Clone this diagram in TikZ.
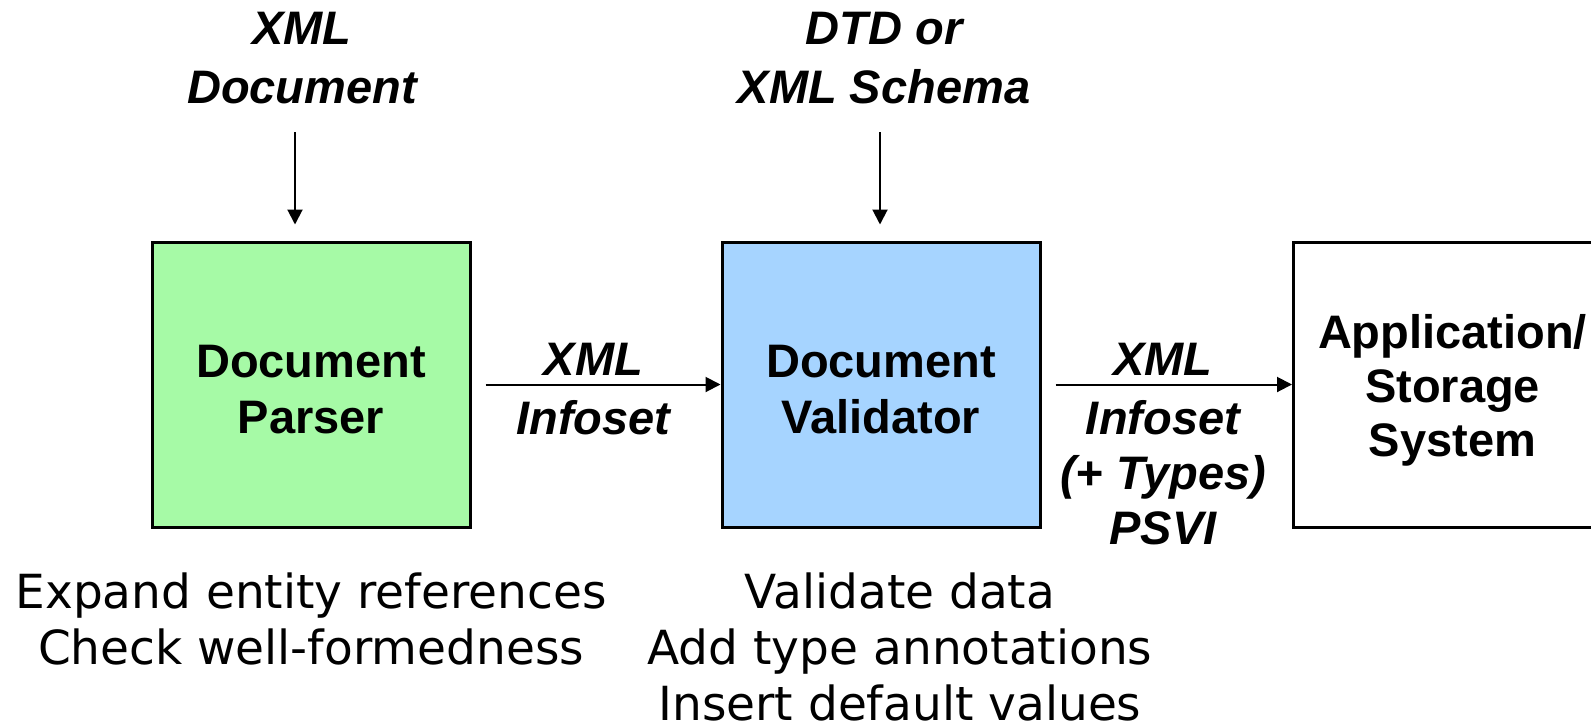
\documentclass[tikz,border=0pt]{standalone}
\usepackage{fontspec}
\setmainfont{Liberation Sans}
\newfontfamily\verdanafont{DejaVu Sans}
\usetikzlibrary{arrows.meta,positioning}
\definecolor{parsergreen}{HTML}{A6FAA6}
\definecolor{validblue}{HTML}{A6D4FF}

\begin{document}
\begin{tikzpicture}[x=0.5pt,y=-0.5pt,
  stage/.style={draw,line width=1.5pt,minimum width=159pt,minimum height=142.5pt},
  stagetext/.style={align=center,inner sep=0pt,font=\fontsize{23.5}{28}\selectfont\bfseries},
  input/.style={align=center,inner sep=0pt,font=\fontsize{23.5}{29.5}\selectfont\bfseries\itshape},
  flowlabel/.style={align=center,font=\fontsize{23.5}{27.5}\selectfont\bfseries\itshape},
  task/.style={align=center,inner sep=0pt,font=\fontsize{23.5}{28}\selectfont\verdanafont},
  flow/.style={line width=1pt,-{Triangle[length=7.5pt,width=7.5pt]}}]
  \useasboundingbox (0,0) rectangle (1591,724);
  \clip (0,0) rectangle (1591,724);

  \node[stage,fill=parsergreen] (parser) at (311,384.5) {};
  \node[stage,fill=validblue] (validator) at (881,384.5) {};
  \node[stage,anchor=west] (storage) at (1292,384.5) {};
  \node[stagetext,yshift=-2.5pt] (parsername) at (parser) {Document\\Parser};
  \node[stagetext,yshift=-2.5pt] (validatorname) at (validator) {Document\\Validator};
  \node[stagetext,yshift=-3pt,font=\fontsize{23.5}{27}\selectfont\bfseries] (storagename) at (storage) {Application/\\Storage\\System};

  \node[input,anchor=north] (xmldoc) at (302,12) {XML\\Document};
  \node[input,anchor=north] (schema) at (884,12) {DTD or\\XML Schema};
  \coordinate (docin) at (295,132);
  \coordinate (schemain) at (880,132);
  \draw[flow,shorten >=8pt] (docin) -- (docin |- parser.north);
  \draw[flow,shorten >=8pt] (schemain) -- (schemain |- validator.north);

  \draw[flow,shorten <=7pt] (parser.east) -- (validator.west)
    node[flowlabel,pos=0.49,above,inner sep=4pt] (infoset) {XML}
    node[flowlabel,pos=0.49,below,inner sep=7.5pt] {Infoset};
  \draw[flow,shorten <=7pt] (validator.east) -- (storage.west)
    node[flowlabel,pos=0.485,above,inner sep=4pt] (psvi) {XML}
    node[flowlabel,pos=0.485,below,inner sep=7.5pt] {Infoset\\(+ Types)\\PSVI};

  \node[task,below=22pt of parser] (parsetasks) {Expand entity references\\Check well-formedness};
  \node[task,below=22pt of validator,xshift=9.5pt] (validtasks) {Validate data\\Add type annotations\\Insert default values};
\end{tikzpicture}
\end{document}
